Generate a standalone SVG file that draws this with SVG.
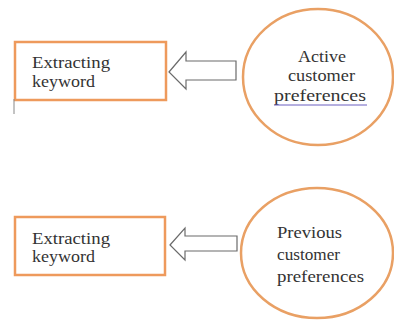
<svg xmlns="http://www.w3.org/2000/svg" width="394" height="324" viewBox="0 0 394 324">
<style>
.box{fill:#fff;stroke:#EE9A5C;stroke-width:2.5}
.oval{fill:#fff;stroke:#E9A064;stroke-width:2.5}
.t{font-family:"Liberation Serif","Times New Roman",serif;font-size:16px;fill:#333}
.arr{fill:#fff;stroke:#6b6b6b;stroke-width:1.2;stroke-linejoin:miter}
</style>
<rect width="394" height="324" fill="#fff"/>
<g id="connectors">
<polygon class="arr" points="169,72 186,52 186,61 236,61 236,80 186,80 186,89"/>
<polygon class="arr" points="170,245 185,228 185,236 237,236 237,251 185,251 185,260"/>
</g>
<g id="node-extract-1">
<rect class="box" x="15" y="42" width="151" height="58"/>
<text class="t" x="32" y="68" textLength="78" lengthAdjust="spacingAndGlyphs">Extracting</text>
<text class="t" x="32" y="87" textLength="63" lengthAdjust="spacingAndGlyphs">keyword</text>
</g>
<line x1="14" y1="99" x2="14" y2="114" stroke="#888" stroke-width="1"/>
<g id="node-active">
<ellipse class="oval" cx="318" cy="77" rx="75" ry="68"/>
<text class="t" x="298" y="62" textLength="48" lengthAdjust="spacingAndGlyphs">Active</text>
<text class="t" x="288" y="81" textLength="67" lengthAdjust="spacingAndGlyphs">customer</text>
<text class="t" x="274" y="101" textLength="92" lengthAdjust="spacingAndGlyphs">preferences</text>
<line x1="274" y1="105" x2="367" y2="105" stroke="#6a5fc0" stroke-width="1"/>
</g>
<g id="node-extract-2">
<rect class="box" x="15" y="217" width="150" height="58"/>
<text class="t" x="32" y="244" textLength="78" lengthAdjust="spacingAndGlyphs">Extracting</text>
<text class="t" x="32" y="262" textLength="63" lengthAdjust="spacingAndGlyphs">keyword</text>
</g>
<g id="node-previous">
<ellipse class="oval" cx="317" cy="253" rx="76" ry="65"/>
<text class="t" x="277" y="238" textLength="65" lengthAdjust="spacingAndGlyphs">Previous</text>
<text class="t" x="277" y="260" textLength="63" lengthAdjust="spacingAndGlyphs">customer</text>
<text class="t" x="277" y="282" textLength="87" lengthAdjust="spacingAndGlyphs">preferences</text>
</g>
</svg>
